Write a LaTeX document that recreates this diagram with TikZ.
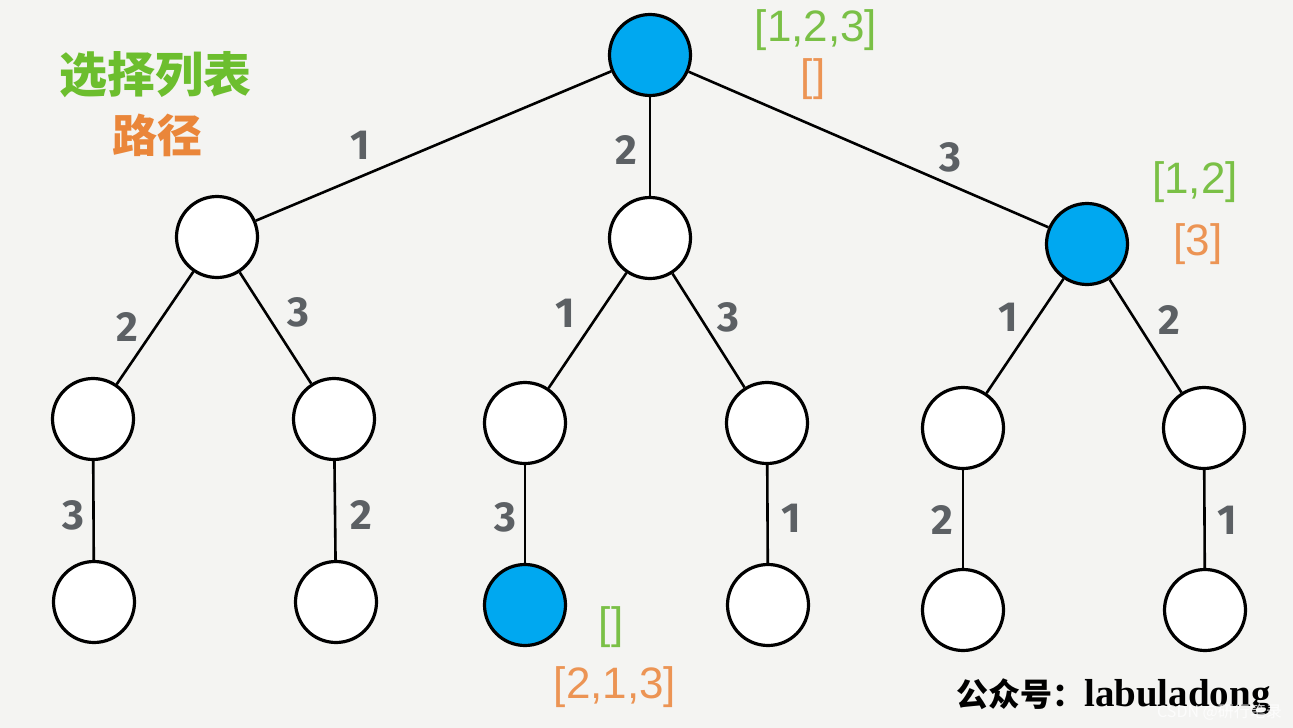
\documentclass[tikz,border=0pt]{standalone}
\usepackage{fontspec}
\newfontfamily\cjk{Noto Sans CJK SC}
\newfontfamily\lblfont{Liberation Sans}
\newfontfamily\handfont{Fira Sans}
\newfontfamily\serifbold{Liberation Serif}
\definecolor{bgpaper}{RGB}{244,244,242}
\definecolor{nodeblue}{RGB}{0,168,240}
\definecolor{titlegreen}{RGB}{108,190,46}
\definecolor{titleorange}{RGB}{234,134,58}
\definecolor{listgreen}{RGB}{122,192,70}
\definecolor{pathorange}{RGB}{236,148,84}
\definecolor{digitgray}{RGB}{92,96,100}
\tikzset{
  tnode/.style={circle, draw=black, line width=3.2pt, minimum size=81pt, inner sep=0pt, fill=white},
  bnode/.style={tnode, fill=nodeblue},
  edgeline/.style={line width=2.6pt, black},
  digit/.style={font=\handfont\bfseries\fontsize{42}{42}\selectfont, text=digitgray, inner sep=0pt},
  greenlist/.style={font=\lblfont\fontsize{44}{44}\selectfont, text=listgreen, inner sep=0pt},
  orangelist/.style={font=\lblfont\fontsize{44}{44}\selectfont, text=pathorange, inner sep=0pt},
}
\begin{document}
\begin{tikzpicture}[x=1pt,y=-1pt]
\fill[bgpaper] (0,0) rectangle (1293,728);
\useasboundingbox (0,0) rectangle (1293,728);

% nodes
\node[bnode] (r) at (650,55) {};
\node[tnode] (a) at (217,237) {};
\node[tnode] (b) at (650,238) {};
\node[bnode] (c) at (1087,244) {};
\node[tnode] (a1) at (93,419) {};
\node[tnode] (a2) at (334,419) {};
\node[tnode] (b1) at (525,423) {};
\node[tnode] (b2) at (767,423) {};
\node[tnode] (c1) at (963,428) {};
\node[tnode] (c2) at (1204,428) {};
\node[tnode] (a1x) at (94,602) {};
\node[tnode] (a2x) at (336,602) {};
\node[bnode] (b1x) at (525,605) {};
\node[tnode] (b2x) at (768,605) {};
\node[tnode] (c1x) at (963,610) {};
\node[tnode] (c2x) at (1205,610) {};

% edges
\draw[edgeline] (r) -- (a);
\draw[edgeline] (r) -- (b);
\draw[edgeline] (r) -- (c);
\draw[edgeline] (a) -- (a1);
\draw[edgeline] (a) -- (a2);
\draw[edgeline] (b) -- (b1);
\draw[edgeline] (b) -- (b2);
\draw[edgeline] (c) -- (c1);
\draw[edgeline] (c) -- (c2);
\draw[edgeline] (a1) -- (a1x);
\draw[edgeline] (a2) -- (a2x);
\draw[edgeline] (b1) -- (b1x);
\draw[edgeline] (b2) -- (b2x);
\draw[edgeline] (c1) -- (c1x);
\draw[edgeline] (c2) -- (c2x);

% edge labels
\node[digit] (l1) at (360,145) {1};
\node[digit] (l2) at (626,150) {2};
\node[digit] (l3) at (950,157) {3};
\node[digit] (la1) at (127,327) {2};
\node[digit] (la2) at (298,312) {3};
\node[digit] (la1x) at (73,515) {3};
\node[digit] (la2x) at (361,515) {2};
\node[digit] (lb1) at (565,313) {1};
\node[digit] (lb2) at (728,317) {3};
\node[digit] (lb1x) at (505,517) {3};
\node[digit] (lb2x) at (791,518) {1};
\node[digit] (lc1) at (1008,317) {1};
\node[digit] (lc2) at (1169,320) {2};
\node[digit] (lc1x) at (942,520) {2};
\node[digit] (lc2x) at (1227,520) {1};

% titles
\node[font=\cjk\bfseries\fontsize{48}{48}\selectfont, text=titlegreen, inner sep=0pt] (t1) at (155,75) {选择列表};
\node[font=\cjk\bfseries\fontsize{45}{45}\selectfont, text=titleorange, inner sep=0pt] (t2) at (157,135) {路径};

% state labels
\node[greenlist] (s1) at (816,30) {[1,2,3]};
\node[orangelist] (s2) at (813,79) {[]};
\node[greenlist] (s3) at (1195,182) {[1,2]};
\node[orangelist] (s4) at (1198,244) {[3]};
\node[greenlist] (s5) at (611,627) {[]};
\node[orangelist] (s6) at (615,687) {[2,1,3]};

% signature
\node[anchor=west, inner sep=0pt] (sig) at (956,697) {\cjk\bfseries\fontsize{32}{32}\selectfont 公众号：\serifbold\bfseries\fontsize{39}{39}\selectfont labuladong};
\node[anchor=east, inner sep=0pt, text=white, opacity=0.8, font=\cjk\fontsize{16}{16}\selectfont] (wm) at (1282,712) {CSDN @研行笔录};
\end{tikzpicture}
\end{document}
